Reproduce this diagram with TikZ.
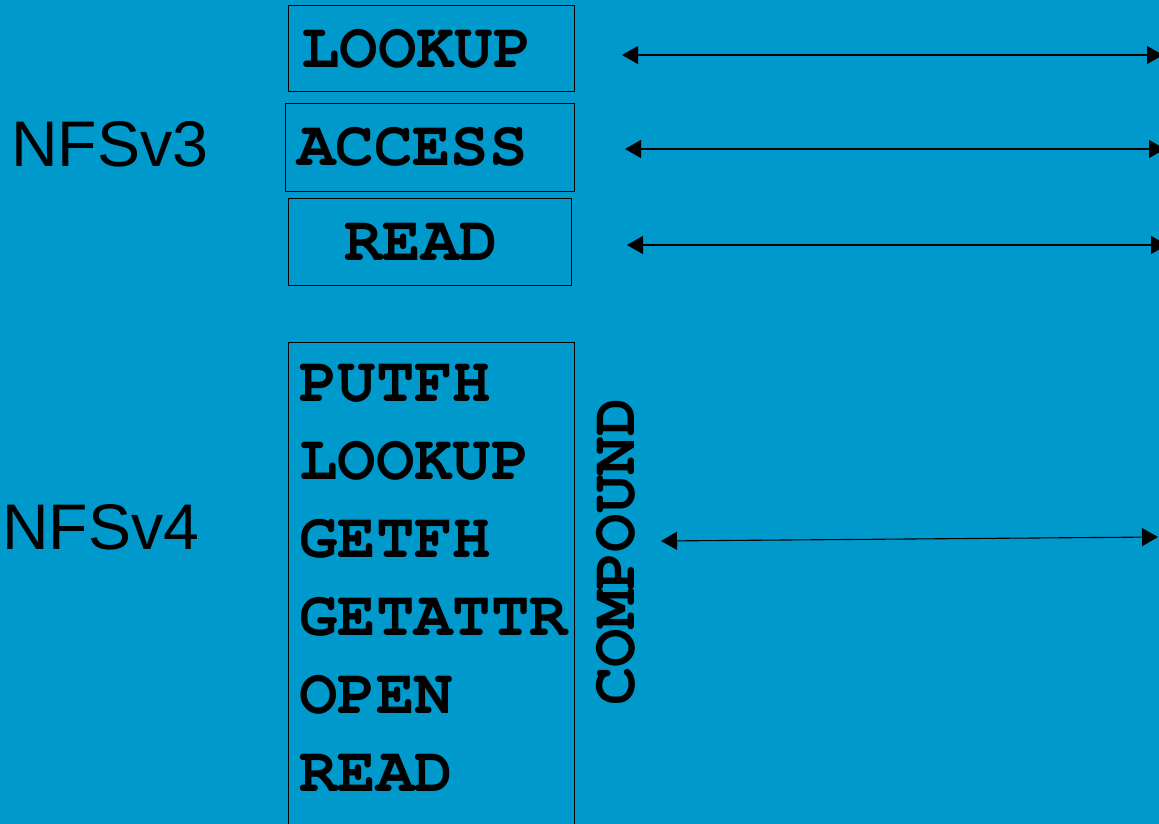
\documentclass[tikz,border=0pt]{standalone}
\usepackage[T1,TU]{fontenc}
\usepackage{fontspec}
\setmainfont{Liberation Sans}
\newcommand{\cmdfontx}{\fontencoding{T1}\fontfamily{pcr}\fontseries{b}\selectfont}
\usetikzlibrary{arrows.meta}
\definecolor{bgblue}{RGB}{0,153,204}
\begin{document}
\begin{tikzpicture}[x=1pt,y=-1pt,
  opbox/.style={draw=black,line width=1pt,inner sep=0pt},
  op/.style={anchor=base west,inner sep=0pt,font=\cmdfontx\fontsize{64}{70}\selectfont},
  ver/.style={anchor=base west,inner sep=0pt,font=\fontsize{64.5}{70}\selectfont},
  link/.style={line width=1.1pt,{Triangle[length=16pt,width=18pt]}-{Triangle[length=16pt,width=18pt]}}]
\fill[bgblue] (0,0) rectangle (1159,824);
\useasboundingbox (0,0) rectangle (1159,824);
% NFSv3 boxes
\node[opbox,minimum width=286pt,minimum height=86pt] (b1) at (431,49) {};
\node[opbox,minimum width=289pt,minimum height=87pt] (b2) at (429.5,147.5) {};
\node[opbox,minimum width=283pt,minimum height=87pt] (b3) at (429.5,241.5) {};
\node[op] (t1) at (301,68) {LOOKUP};
\node[op] (t2) at (297,165) {ACCESS};
\node[op] (t3) at (344,260) {READ};
% NFSv4 box
\node[opbox,minimum width=286pt,minimum height=500pt] (b4) at (431,592) {};
\node[op] (p1) at (299,401) {PUTFH};
\node[op] (p2) at (299,479) {LOOKUP};
\node[op] (p3) at (299,557) {GETFH};
\node[op] (p4) at (299,635) {GETATTR};
\node[op] (p5) at (299,713) {OPEN};
\node[op] (p6) at (299,791) {READ};
\node[op,rotate=90,anchor=base] (cmp) at (634,552) {COMPOUND};
% version labels
\node[ver] (v3) at (11,166) {NFSv3};
\node[ver] (v4) at (2,549) {NFSv4};
% arrows
\coordinate (a1l) at (622,55); \coordinate (a1r) at (1163,55);
\coordinate (a2l) at (625,149); \coordinate (a2r) at (1165,149);
\coordinate (a3l) at (627,245); \coordinate (a3r) at (1167,245);
\coordinate (a4l) at (661,541); \coordinate (a4r) at (1158,537);
\draw[link] (a1l) -- (a1r);
\draw[link] (a2l) -- (a2r);
\draw[link] (a3l) -- (a3r);
\draw[link] (a4l) -- (a4r);
\end{tikzpicture}
\end{document}
